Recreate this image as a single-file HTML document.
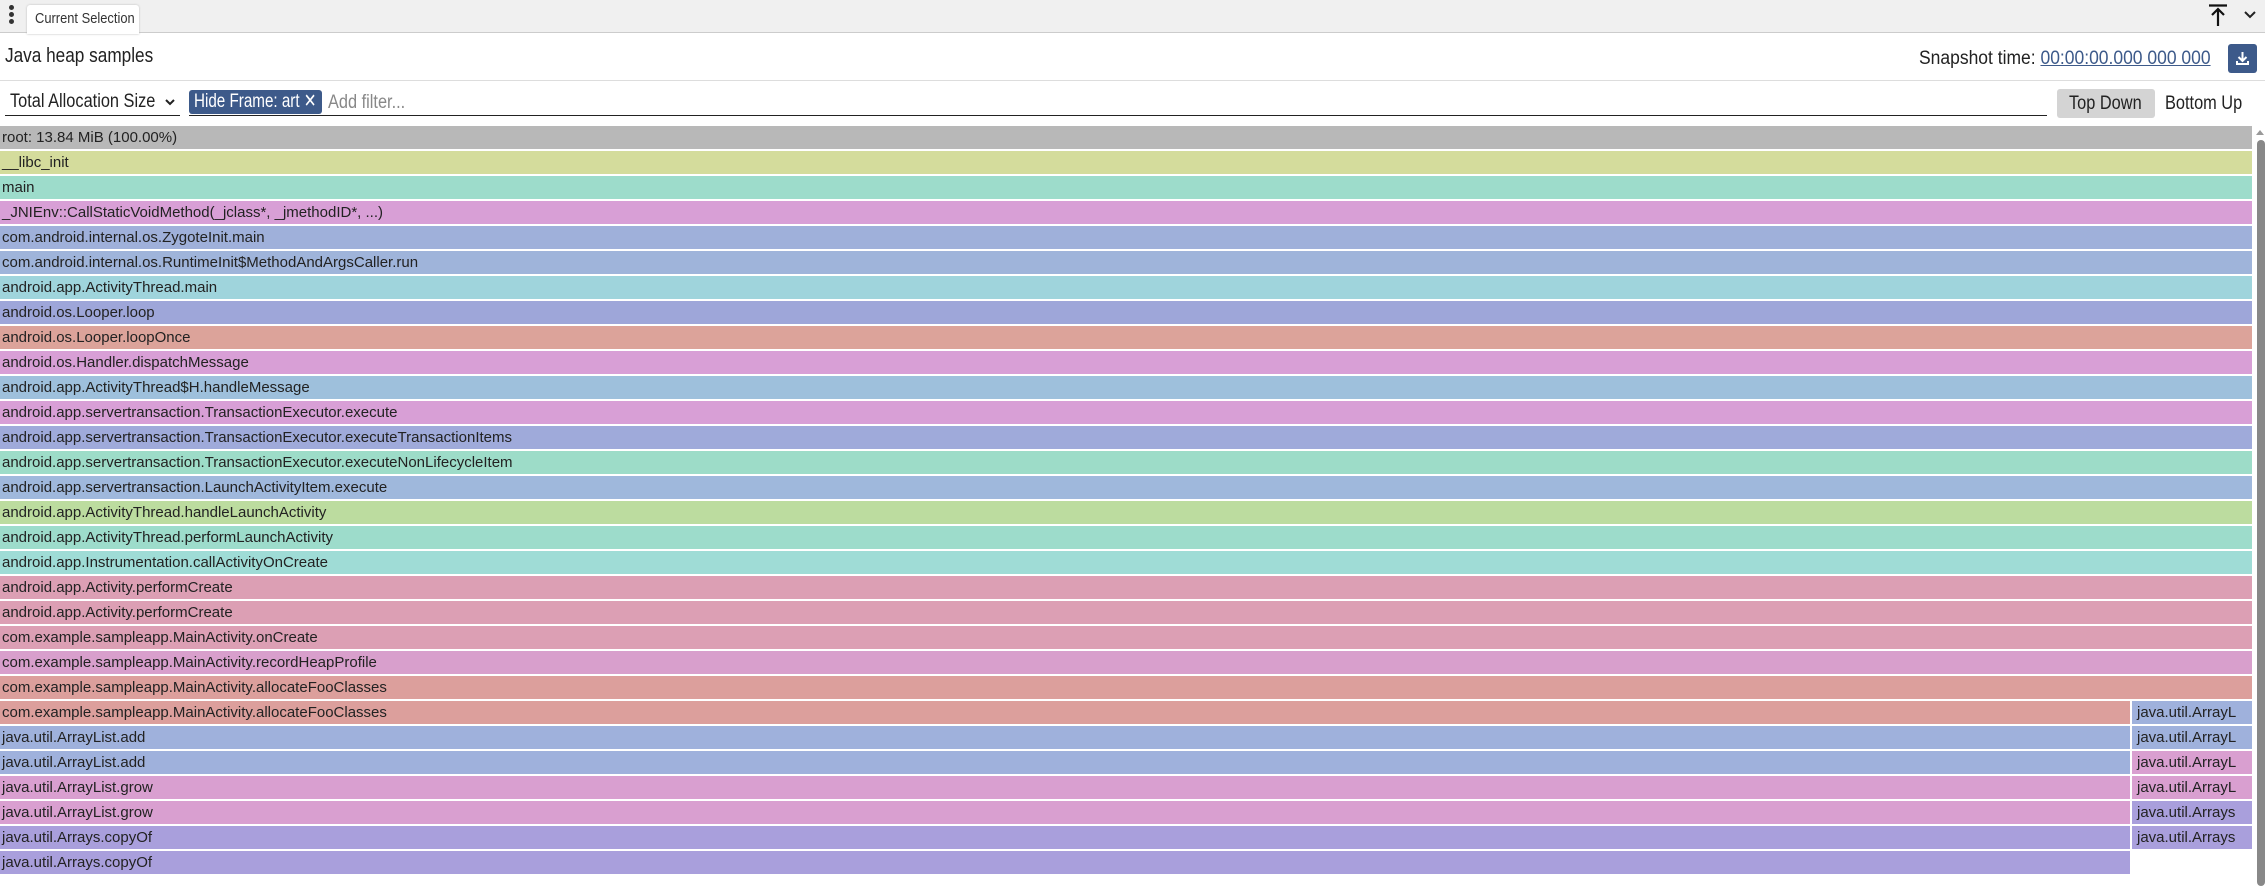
<!DOCTYPE html>
<html><head><meta charset="utf-8"><style>
*{margin:0;padding:0;box-sizing:border-box}
body{width:2265px;height:886px;overflow:hidden;background:#fff;font-family:"Liberation Sans",sans-serif;color:#222;position:relative}
.a{position:absolute;white-space:nowrap}
.c{display:inline-block;transform:scaleX(0.86);transform-origin:left center}
.r{position:absolute;left:0;height:23px;font-size:15px;line-height:23px;padding-left:2px;white-space:nowrap;overflow:hidden;color:#222}
</style></head><body>
<div class="a" style="left:0;top:0;width:2265px;height:33px;background:#f0f0f0;border-bottom:1px solid #ccc"></div>
<div class="a" style="left:9px;top:5px;width:5px;height:5px;border-radius:50%;background:#333"></div>
<div class="a" style="left:9px;top:12px;width:5px;height:5px;border-radius:50%;background:#333"></div>
<div class="a" style="left:9px;top:19px;width:5px;height:5px;border-radius:50%;background:#333"></div>
<div class="a" style="left:27px;top:5px;width:112px;height:29px;background:#fff;border-radius:3px 3px 0 0;box-shadow:0 0 2px #bbb;font-size:15px;line-height:28px;padding-left:8px;color:#333"><span class="c">Current Selection</span></div>
<svg class="a" style="left:2208px;top:4px" width="20" height="24" viewBox="0 0 20 24"><path d="M1 1.5H19M10 22V5M4 11L10 5L16 11" stroke="#111" stroke-width="2.2" fill="none"/></svg>
<svg class="a" style="left:2243px;top:10px" width="14" height="10" viewBox="0 0 14 10"><path d="M2 2L7 7L12 2" stroke="#222" stroke-width="2" fill="none"/></svg>
<div class="a" style="left:5px;top:45px;font-size:20px;color:#222"><span class="c">Java heap samples</span></div>
<div class="a" style="left:0;top:80px;width:2265px;height:1px;background:#ddd"></div>
<div class="a" style="left:1919px;top:48px;font-size:19px;color:#222"><span class="c" style="transform:scaleX(0.92)">Snapshot time: <span style="color:#3d5a8a;text-decoration:underline">00:00:00.000 000 000</span></span></div>
<div class="a" style="left:2228px;top:44px;width:29px;height:29px;background:#3d5a8a;border-radius:3px"></div>
<svg class="a" style="left:2233px;top:49px" width="19" height="19" viewBox="0 0 19 19"><path d="M9.5 3V12M5.5 8L9.5 12L13.5 8M4 12V15H15V12" stroke="#fff" stroke-width="2" fill="none"/></svg>
<div class="a" style="left:5px;top:90px;width:175px;height:26px;border-bottom:1px solid #222;font-size:19px;line-height:24px;padding-left:5px"><span class="c">Total Allocation Size</span></div>
<svg class="a" style="left:164px;top:98px" width="12" height="8" viewBox="0 0 12 8"><path d="M2 2L6 6L10 2" stroke="#222" stroke-width="2" fill="none"/></svg>
<div class="a" style="left:189px;top:90px;width:133px;height:24px;background:#3d5a8a;border-radius:3px;color:#fff;font-size:19px;line-height:24px;padding-left:5px;overflow:hidden"><span class="c" style="transform:scaleX(0.8)">Hide Frame: art ✕</span></div>
<div class="a" style="left:189px;top:115px;width:1858px;height:1px;background:#222"></div>
<div class="a" style="left:328px;top:91px;font-size:19px;line-height:24px;color:#888"><span class="c">Add filter...</span></div>
<div class="a" style="left:2057px;top:89px;width:98px;height:29px;background:#d4d4d4;border-radius:3px;font-size:19px;line-height:29px;padding-left:12px"><span class="c">Top Down</span></div>
<div class="a" style="left:2165px;top:89px;font-size:19px;line-height:29px"><span class="c">Bottom Up</span></div>
<div class="a" style="left:2257px;top:140px;width:8px;height:746px;background:#888;border-radius:4px"></div>
<div class="a" style="left:2256px;top:130px;width:0;height:0;border-left:4px solid transparent;border-right:4px solid transparent;border-bottom:5px solid #999"></div>
<div class="r" style="top:126px;width:2252px;background:#b8b8b8">root: 13.84 MiB (100.00%)</div>
<div class="r" style="top:151px;width:2252px;background:#d4dc9c">__libc_init</div>
<div class="r" style="top:176px;width:2252px;background:#9ddccb">main</div>
<div class="r" style="top:201px;width:2252px;background:#d89fd6">_JNIEnv::CallStaticVoidMethod(_jclass*, _jmethodID*, ...)</div>
<div class="r" style="top:226px;width:2252px;background:#9fb0da">com.android.internal.os.ZygoteInit.main</div>
<div class="r" style="top:251px;width:2252px;background:#9fb4da">com.android.internal.os.RuntimeInit$MethodAndArgsCaller.run</div>
<div class="r" style="top:276px;width:2252px;background:#9fd4dc">android.app.ActivityThread.main</div>
<div class="r" style="top:301px;width:2252px;background:#9ea6d9">android.os.Looper.loop</div>
<div class="r" style="top:326px;width:2252px;background:#dca39a">android.os.Looper.loopOnce</div>
<div class="r" style="top:351px;width:2252px;background:#d89fd6">android.os.Handler.dispatchMessage</div>
<div class="r" style="top:376px;width:2252px;background:#9ec0dc">android.app.ActivityThread$H.handleMessage</div>
<div class="r" style="top:401px;width:2252px;background:#d89fd6">android.app.servertransaction.TransactionExecutor.execute</div>
<div class="r" style="top:426px;width:2252px;background:#9faada">android.app.servertransaction.TransactionExecutor.executeTransactionItems</div>
<div class="r" style="top:451px;width:2252px;background:#9ddcc8">android.app.servertransaction.TransactionExecutor.executeNonLifecycleItem</div>
<div class="r" style="top:476px;width:2252px;background:#9fb8dc">android.app.servertransaction.LaunchActivityItem.execute</div>
<div class="r" style="top:501px;width:2252px;background:#bcdc9f">android.app.ActivityThread.handleLaunchActivity</div>
<div class="r" style="top:526px;width:2252px;background:#9ddccb">android.app.ActivityThread.performLaunchActivity</div>
<div class="r" style="top:551px;width:2252px;background:#9fdcd6">android.app.Instrumentation.callActivityOnCreate</div>
<div class="r" style="top:576px;width:2252px;background:#dc9fb4">android.app.Activity.performCreate</div>
<div class="r" style="top:601px;width:2252px;background:#dc9fb4">android.app.Activity.performCreate</div>
<div class="r" style="top:626px;width:2252px;background:#dc9fb4">com.example.sampleapp.MainActivity.onCreate</div>
<div class="r" style="top:651px;width:2252px;background:#d89fcc">com.example.sampleapp.MainActivity.recordHeapProfile</div>
<div class="r" style="top:676px;width:2252px;background:#dc9f9c">com.example.sampleapp.MainActivity.allocateFooClasses</div>
<div class="r" style="top:701px;width:2130px;background:#dc9f9c">com.example.sampleapp.MainActivity.allocateFooClasses</div>
<div class="r" style="top:726px;width:2130px;background:#9fb1dc">java.util.ArrayList.add</div>
<div class="r" style="top:751px;width:2130px;background:#9fb1dc">java.util.ArrayList.add</div>
<div class="r" style="top:776px;width:2130px;background:#d99fd0">java.util.ArrayList.grow</div>
<div class="r" style="top:801px;width:2130px;background:#d99fd0">java.util.ArrayList.grow</div>
<div class="r" style="top:826px;width:2130px;background:#a99fdc">java.util.Arrays.copyOf</div>
<div class="r" style="top:851px;width:2130px;background:#a99fdc">java.util.Arrays.copyOf</div>
<div class="r" style="left:2132px;top:701px;width:120px;background:#9fb1dc;padding-left:5px">java.util.ArrayL</div>
<div class="r" style="left:2132px;top:726px;width:120px;background:#9fb1dc;padding-left:5px">java.util.ArrayL</div>
<div class="r" style="left:2132px;top:751px;width:120px;background:#d99fd0;padding-left:5px">java.util.ArrayL</div>
<div class="r" style="left:2132px;top:776px;width:120px;background:#d99fd0;padding-left:5px">java.util.ArrayL</div>
<div class="r" style="left:2132px;top:801px;width:120px;background:#a99fdc;padding-left:5px">java.util.Arrays</div>
<div class="r" style="left:2132px;top:826px;width:120px;background:#a99fdc;padding-left:5px">java.util.Arrays</div>
</body></html>
